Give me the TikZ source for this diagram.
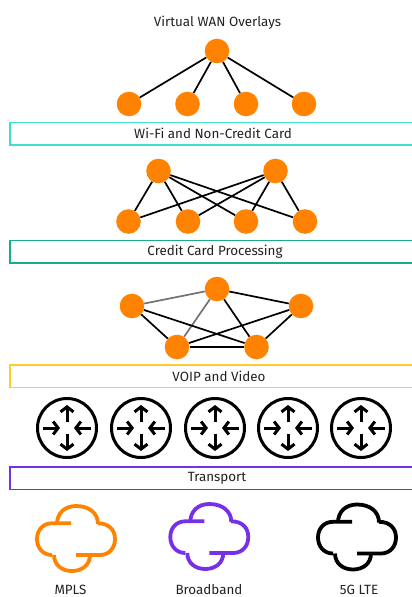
\documentclass[tikz,border=0pt]{standalone}
\usepackage{fontspec}
\setmainfont{Fira Sans}
\usetikzlibrary{arrows.meta}
\definecolor{dotorange}{HTML}{FF8300}
\definecolor{barteal}{HTML}{3FDFCF}
\definecolor{bargreen}{HTML}{17AD8A}
\definecolor{baryellow}{HTML}{FFCB2E}
\definecolor{barpurple}{HTML}{7630EA}
\definecolor{textdark}{HTML}{222222}
\begin{document}
\begin{tikzpicture}[x=1pt,y=-1pt,
    dot/.style={circle,fill=dotorange,minimum size=24.6pt,inner sep=0pt},
    link/.style={line width=1.7pt,black},
    greylink/.style={line width=1.7pt,black!55},
    label/.style={text=textdark,font=\fontsize{13.4}{15}\selectfont,inner sep=0pt},
    bar/.style={draw=#1,line width=1.5pt,fill=white,minimum height=22.5pt,inner sep=0pt,text=textdark,font=\fontsize{13.4}{15}\selectfont},
    ring/.style={circle,draw=black,line width=3pt,minimum size=59pt,inner sep=0pt},
    routerarrow/.style={line width=3pt,-{Straight Barb[length=5pt,width=13pt]}},
    cloudline/.style={line width=3.8pt,line cap=butt}]
    \clip (0,0) rectangle (412,597);
    \node[label] (overlays) at (217.5,23) {Virtual WAN Overlays};
    \node[dot] (a0) at (217,51) {};
    \node[dot] (a1) at (129,104) {};
    \node[dot] (a2) at (187.5,104) {};
    \node[dot] (a3) at (246,104) {};
    \node[dot] (a4) at (304,104) {};
    \foreach \n in {a1,a2,a3,a4} {
        \draw[link] (a0)--(\n);
    }
    \node[bar=barteal,minimum width=406pt] (wifi) at (213,133.5) {Wi-Fi and Non-Credit Card};
    \node[dot] (b5) at (158.5,171) {};
    \node[dot] (b6) at (275.5,171) {};
    \node[dot] (b1) at (128.5,221.5) {};
    \node[dot] (b2) at (188,221.5) {};
    \node[dot] (b3) at (246,221.5) {};
    \node[dot] (b4) at (305,221.5) {};
    \foreach \n in {b1,b2,b3,b4} {
        \draw[link] (b5)--(\n);
        \draw[link] (b6)--(\n);
    }
    \node[bar=bargreen,minimum width=410pt] (credit) at (215,251.5) {Credit Card Processing};
    \node[dot] (c1) at (217,289) {};
    \node[dot] (c2) at (132,306) {};
    \node[dot] (c3) at (301,306) {};
    \node[dot] (c4) at (177,347) {};
    \node[dot] (c5) at (256.5,347) {};
    \draw[greylink] (c2)--(c1);
    \draw[greylink] (c1)--(c4);
    \draw[link] (c1)--(c3);
    \draw[link] (c1)--(c5);
    \draw[link] (c2)--(c4);
    \draw[link] (c2)--(c5);
    \draw[link] (c3)--(c4);
    \draw[link] (c3)--(c5);
    \draw[link] (c4)--(c5);
    \node[bar=baryellow,minimum width=418pt] (voip) at (219,376) {VOIP and Video};
    \foreach \x in {67,141,215,288,361} {
        \node[ring] (r\x) at (\x,428) {};
        \draw[routerarrow] (\x,422)--(\x,405);
        \draw[routerarrow] (\x,434)--(\x,451);
        \draw[routerarrow] (\x-24,428)--(\x-7,428);
        \draw[routerarrow] (\x+24,428)--(\x+7,428);
    }
    \node[bar=barpurple,minimum width=414pt] (transport) at (217,478) {Transport};
    \foreach \x/\y/\c in {0/0/dotorange,133.3/-2/barpurple,281/-1.5/black} {
        \begin{scope}[shift={(\x,\y)}]
            \draw[cloudline,\c] (71,523.3)--(52,523.3) .. controls (43,523.3) and (37,530) .. (37,539) .. controls (37,548) and (43,555) .. (52,555);
            \draw[cloudline,\c] (54,555) .. controls (54,565) and (62,571) .. (72,571) .. controls (82,571) and (90,565) .. (90,555);
            \draw[cloudline,\c] (57,524) .. controls (57,513) and (65,506) .. (76,506) .. controls (89,506) and (98,513) .. (98,524);
            \draw[cloudline,\c] (76,555)--(100,555) .. controls (109,555) and (115,548) .. (115,539) .. controls (115,530) and (109,523.3) .. (98,523.3);
        \end{scope}
    }
    \node[label,anchor=base] (mpls) at (70.5,594.5) {MPLS};
    \node[label,anchor=base] (broadband) at (209,594.5) {Broadband};
    \node[label,anchor=base] (lte) at (359,594.5) {5G LTE};
\end{tikzpicture}
\end{document}
